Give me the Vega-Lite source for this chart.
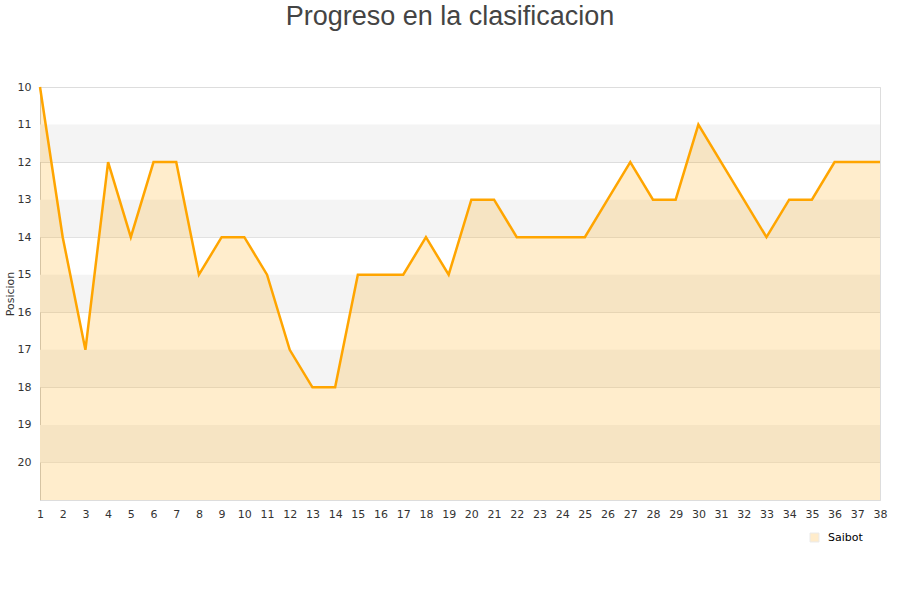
{
  "$schema": "https://vega.github.io/schema/vega-lite/v6.json",
  "autosize": {"type": "none"},
  "padding": {"left": 40, "top": 87, "right": 20, "bottom": 100},
  "width": 840,
  "height": 413,
  "title": {"text": "Progreso en la clasificacion", "fontSize": 27, "font": "Liberation Sans", "fontWeight": "normal", "color": "#444444", "anchor": "middle", "offset": 50, "dx": -10},
  "config": {
    "view": {"stroke": "#dddddd"},
    "axis": {"labelFont": "DejaVu Sans", "titleFont": "DejaVu Sans", "labelColor": "#333333", "titleColor": "#333333", "labelFontSize": 11, "titleFontSize": 11, "titleFontWeight": "normal", "labelOverlap": false, "labelSeparation": 0, "labelBound": false},
    "legend": {"labelFont": "DejaVu Sans", "labelFontSize": 11, "labelColor": "#000000"}
  },
  "datasets": {
    "bands": [
      {"a": 11, "b": 12}, {"a": 13, "b": 14}, {"a": 15, "b": 16}, {"a": 17, "b": 18}, {"a": 19, "b": 20}
    ],
    "prog": [
      {"jornada": 1, "posicion": 10, "equipo": "Saibot"},
      {"jornada": 2, "posicion": 14, "equipo": "Saibot"},
      {"jornada": 3, "posicion": 17, "equipo": "Saibot"},
      {"jornada": 4, "posicion": 12, "equipo": "Saibot"},
      {"jornada": 5, "posicion": 14, "equipo": "Saibot"},
      {"jornada": 6, "posicion": 12, "equipo": "Saibot"},
      {"jornada": 7, "posicion": 12, "equipo": "Saibot"},
      {"jornada": 8, "posicion": 15, "equipo": "Saibot"},
      {"jornada": 9, "posicion": 14, "equipo": "Saibot"},
      {"jornada": 10, "posicion": 14, "equipo": "Saibot"},
      {"jornada": 11, "posicion": 15, "equipo": "Saibot"},
      {"jornada": 12, "posicion": 17, "equipo": "Saibot"},
      {"jornada": 13, "posicion": 18, "equipo": "Saibot"},
      {"jornada": 14, "posicion": 18, "equipo": "Saibot"},
      {"jornada": 15, "posicion": 15, "equipo": "Saibot"},
      {"jornada": 16, "posicion": 15, "equipo": "Saibot"},
      {"jornada": 17, "posicion": 15, "equipo": "Saibot"},
      {"jornada": 18, "posicion": 14, "equipo": "Saibot"},
      {"jornada": 19, "posicion": 15, "equipo": "Saibot"},
      {"jornada": 20, "posicion": 13, "equipo": "Saibot"},
      {"jornada": 21, "posicion": 13, "equipo": "Saibot"},
      {"jornada": 22, "posicion": 14, "equipo": "Saibot"},
      {"jornada": 23, "posicion": 14, "equipo": "Saibot"},
      {"jornada": 24, "posicion": 14, "equipo": "Saibot"},
      {"jornada": 25, "posicion": 14, "equipo": "Saibot"},
      {"jornada": 26, "posicion": 13, "equipo": "Saibot"},
      {"jornada": 27, "posicion": 12, "equipo": "Saibot"},
      {"jornada": 28, "posicion": 13, "equipo": "Saibot"},
      {"jornada": 29, "posicion": 13, "equipo": "Saibot"},
      {"jornada": 30, "posicion": 11, "equipo": "Saibot"},
      {"jornada": 31, "posicion": 12, "equipo": "Saibot"},
      {"jornada": 32, "posicion": 13, "equipo": "Saibot"},
      {"jornada": 33, "posicion": 14, "equipo": "Saibot"},
      {"jornada": 34, "posicion": 13, "equipo": "Saibot"},
      {"jornada": 35, "posicion": 13, "equipo": "Saibot"},
      {"jornada": 36, "posicion": 12, "equipo": "Saibot"},
      {"jornada": 37, "posicion": 12, "equipo": "Saibot"},
      {"jornada": 38, "posicion": 12, "equipo": "Saibot"}
    ]
  },
  "layer": [
    {
      "data": {"name": "bands"},
      "mark": {"type": "rect", "fill": "#f4f4f4"},
      "encoding": {
        "y": {"field": "a", "type": "quantitative", "scale": {"domain": [10, 21], "reverse": true, "nice": false, "zero": false},
              "axis": {"title": "Posicion", "values": [10,11,12,13,14,15,16,17,18,19,20,21], "format": "d", "labelExpr": "datum.value == 21 ? '' : datum.label", "grid": true, "gridColor": "#dddddd", "ticks": false, "domainColor": "#cccccc", "labelPadding": 9, "titlePadding": 2, "labelOverlap": false, "tickCount": 30}},
        "y2": {"field": "b"}
      }
    },
    {
      "data": {"name": "prog"},
      "mark": {"type": "area", "opacity": 0.2},
      "encoding": {
        "x": {"field": "jornada", "type": "quantitative", "scale": {"domain": [1, 38], "nice": false, "zero": false},
              "axis": {"title": null, "values": [1,2,3,4,5,6,7,8,9,10,11,12,13,14,15,16,17,18,19,20,21,22,23,24,25,26,27,28,29,30,31,32,33,34,35,36,37,38], "format": "d", "tickCount": 38, "grid": false, "ticks": false, "domain": false, "labelPadding": 8, "labelFlush": false, "labelOverlap": false}},
        "y": {"field": "posicion", "type": "quantitative"},
        "y2": {"datum": 21},
        "fill": {"field": "equipo", "type": "nominal", "scale": {"range": ["#ffa500"]},
                 "legend": {"title": null, "orient": "none", "legendX": 769, "legendY": 445, "symbolType": "square", "symbolSize": 80, "labelOffset": 8,
                            "symbolStrokeColor": "#999999", "symbolStrokeWidth": 1,
                            "encode": {"symbols": {"update": {"fill": {"value": "#fde8c0"}, "stroke": {"value": "#999999"}, "strokeWidth": {"value": 1}, "strokeOpacity": {"value": 1}, "fillOpacity": {"value": 1}, "opacity": {"value": 1}}}}}}
      }
    },
    {
      "data": {"name": "prog"},
      "mark": {"type": "line", "color": "#ffa500", "strokeWidth": 2.5},
      "encoding": {
        "x": {"field": "jornada", "type": "quantitative"},
        "y": {"field": "posicion", "type": "quantitative"}
      }
    }
  ]
}
